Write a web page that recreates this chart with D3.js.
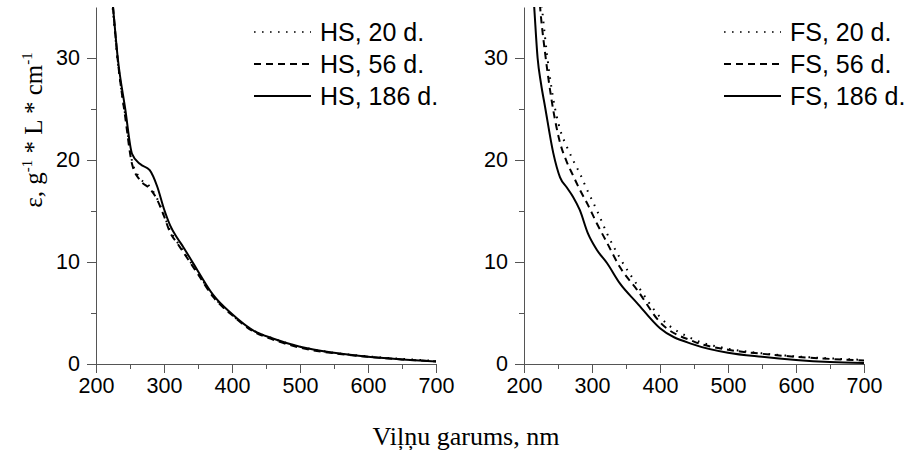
<!DOCTYPE html>
<html>
<head>
<meta charset="utf-8">
<script src="https://cdn.jsdelivr.net/npm/d3@7"></script>
<style>
  body { margin: 0; background: #fff; }
  svg { display: block; }
  .tick text { font-family: "Liberation Sans", Arial, sans-serif; font-size: 21.5px; fill: #000; }
  .axis path, .axis line { stroke: #555; }
</style>
</head>
<body>
<svg id="chart" width="908" height="450"></svg>
<script>
// HS panel
const hsWave = [220, 225, 232, 243, 253, 265, 279, 290, 300, 309, 320, 328, 340, 350, 372, 400, 431, 460, 500, 550, 600, 650, 700]
const hs20  = [38, 34.6, 29.6, 24.4, 19.9, 18.2, 17.4, 16.2, 14.6, 13.1, 11.9, 11.1, 9.9, 8.9, 6.7, 4.8, 3.3, 2.5, 1.7, 1.1, 0.75, 0.5, 0.3]
const hs56  = [38.5, 35, 29.8, 24.2, 19.6, 18.0, 17.2, 16.1, 14.5, 12.9, 11.8, 11.0, 9.8, 8.8, 6.6, 4.8, 3.2, 2.4, 1.6, 1.05, 0.7, 0.45, 0.25]
const hs186 = [38.5, 35, 30, 25, 20.6, 19.6, 19.0, 17.4, 15.2, 13.6, 12.3, 11.5, 10.2, 9.1, 6.8, 4.9, 3.3, 2.5, 1.7, 1.1, 0.7, 0.45, 0.25]

// FS panel
const fsWave = [210, 215, 220, 225, 231, 243, 253, 263, 272, 282, 294, 307, 322, 341, 366, 400, 450, 500, 550, 600, 650, 700]
const fs20  = [50, 44, 40, 36, 32, 26, 23, 21.3, 20.0, 18.7, 16.9, 15.1, 12.8, 10.4, 7.8, 4.6, 2.4, 1.5, 1.05, 0.75, 0.55, 0.4]
const fs56  = [47, 42, 38, 34, 30.5, 24.9, 21.7, 19.8, 18.5, 17.1, 15.6, 13.8, 11.9, 9.5, 7.3, 4.1, 2.2, 1.4, 1.0, 0.7, 0.5, 0.35]
const fs186 = [40, 35, 30, 27.5, 25.2, 20.7, 18.3, 17.3, 16.4, 15.1, 12.8, 11.2, 9.9, 7.9, 6.0, 3.5, 1.9, 1.1, 0.7, 0.4, 0.2, 0.1]

const xTicks = [200, 300, 400, 500, 600, 700]
const yTicks = [0, 10, 20, 30]

const panels = [
	{ prefix: 'HS', wave: hsWave, series: [hs20, hs56, hs186], left: 96, legendX: 254 },
	{ prefix: 'FS', wave: fsWave, series: [fs20, fs56, fs186], left: 524, legendX: 724 }
]
const labels = ['20 d.', '56 d.', '186 d.']
const dashes = ['1.6,6.4', '7,5', null]
const widths = [2, 2, 2]

const svg = d3.select('#chart')
const panelW = 340
const plotTop = 7, plotBottom = 364

function DrawPanel(p, idx){

	const x = d3.scaleLinear().domain([200, 700]).range([p.left, p.left + panelW])
	const y = d3.scaleLinear().domain([0, 35]).range([plotBottom, plotTop])

	// minor ticks first
	svg.append('g')
		.attr('class', 'axis')
		.attr('transform', 'translate(0,' + plotBottom + ')')
		.call(d3.axisBottom(x).tickValues(d3.range(250, 700, 100)).tickSize(5).tickFormat(''))
		.call(g => g.select('.domain').remove())
	svg.append('g')
		.attr('class', 'axis')
		.attr('transform', 'translate(' + p.left + ',0)')
		.call(d3.axisLeft(y).tickValues([5, 15, 25]).tickSize(5).tickFormat(''))
		.call(g => g.select('.domain').remove())

	// major axes
	svg.append('g')
		.attr('class', 'axis')
		.attr('transform', 'translate(0,' + plotBottom + ')')
		.call(d3.axisBottom(x).tickValues(xTicks).tickSize(9).tickSizeOuter(0).tickPadding(5))
	svg.append('g')
		.attr('class', 'axis')
		.attr('transform', 'translate(' + p.left + ',0)')
		.call(d3.axisLeft(y).tickValues(yTicks).tickSize(9).tickSizeOuter(0).tickPadding(7))

	const clipId = 'clip' + idx
	svg.append('clipPath').attr('id', clipId)
		.append('rect')
		.attr('x', x(200)).attr('y', y(35))
		.attr('width', panelW).attr('height', plotBottom - plotTop)

	const line = d3.line()
		.x((d, i) => x(p.wave[i]))
		.y(d => y(d))
		.curve(d3.curveMonotoneX)

	svg.append('g')
		.attr('clip-path', 'url(#' + clipId + ')')
		.selectAll('path')
		.data(p.series)
		.join('path')
			.attr('d', d => line(d))
			.attr('fill', 'none')
			.attr('stroke', '#000')
			.attr('stroke-width', (d, i) => widths[i])
			.attr('stroke-dasharray', (d, i) => dashes[i])

	// legend
	const leg = svg.append('g')
	labels.forEach((lab, i) => {
		const ly = 32 + i * 32
		leg.append('line')
			.attr('x1', p.legendX).attr('x2', p.legendX + 57)
			.attr('y1', ly).attr('y2', ly)
			.attr('stroke', '#000')
			.attr('stroke-width', i == 0 ? 1.6 : 2)
			.attr('stroke-dasharray', dashes[i])
		leg.append('text')
			.attr('x', p.legendX + 66).attr('y', ly)
			.attr('dy', '0.36em')
			.style('font-family', '"Liberation Sans", Arial, sans-serif')
			.style('font-size', '25px')
			.text(p.prefix + ', ' + lab)
	})
}

panels.forEach(DrawPanel)

// y axis title
const yt = svg.append('text')
	.attr('transform', 'translate(42,130) rotate(-90)')
	.attr('text-anchor', 'middle')
	.style('font-family', '"Liberation Serif", "Times New Roman", serif')
	.style('font-size', '25px')
yt.append('tspan').text('ε, g')
yt.append('tspan').attr('dy', -10).style('font-size', '15px').text('-1')
yt.append('tspan').attr('dy', 10).text(' * L * cm')
yt.append('tspan').attr('dy', -10).style('font-size', '15px').text('-1')

// x axis title
svg.append('text')
	.attr('x', 466).attr('y', 445)
	.attr('text-anchor', 'middle')
	.style('font-family', '"Liberation Serif", "Times New Roman", serif')
	.style('font-size', '26px')
	.text('Viļņu garums, nm')
</script>
</body>
</html>
